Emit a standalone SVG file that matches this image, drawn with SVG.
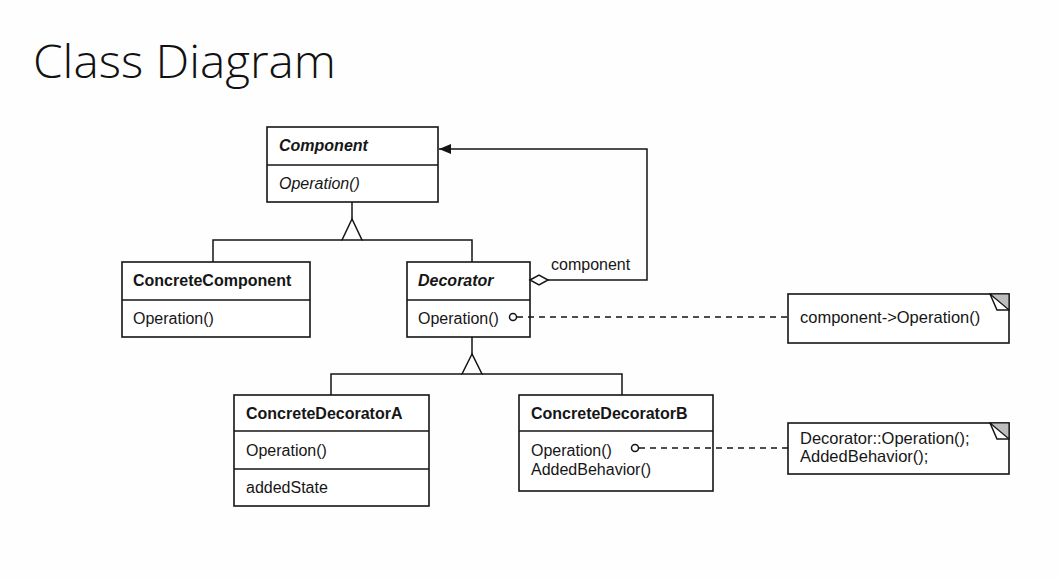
<svg xmlns="http://www.w3.org/2000/svg" width="1059" height="579" viewBox="0 0 1059 579">
  <style>
    .box { fill: #ffffff; stroke: #141414; stroke-width: 1.6; }
    .ln { fill: none; stroke: #141414; stroke-width: 1.5; }
    .open { fill: #ffffff; stroke: #141414; stroke-width: 1.5; }
    .dash { fill: none; stroke: #141414; stroke-width: 1.4; stroke-dasharray: 6 5; }
    .t { font-family: "Liberation Sans", Arial, sans-serif; font-size: 16px; fill: #161616; }
    .n { font-size: 16.5px; }
    .b { font-weight: bold; }
    .i { font-style: italic; }
    .title { font-family: "Open Sans", "Liberation Sans", sans-serif; font-weight: 300; font-size: 46px; fill: #111111; }
  </style>
  <defs>
    <marker id="filled" viewBox="0 0 12 10" refX="12" refY="5" markerWidth="12" markerHeight="10" markerUnits="userSpaceOnUse" orient="auto">
      <path d="M0,0 L12,5 L0,10 Z" fill="#141414"/>
    </marker>
  </defs>
  <rect x="0" y="0" width="1059" height="579" fill="#fefefe"/>
  <text class="title" x="33" y="78" textLength="303" lengthAdjust="spacingAndGlyphs">Class Diagram</text>

  <g id="component">
    <rect class="box" x="267" y="127" width="171" height="75"/>
    <line class="ln" x1="267" y1="165" x2="438" y2="165"/>
    <text class="t b i" x="279" y="151">Component</text>
    <text class="t i" x="279" y="189">Operation()</text>
  </g>

  <g id="concreteComponent">
    <rect class="box" x="122" y="262" width="188" height="75"/>
    <line class="ln" x1="122" y1="300" x2="310" y2="300"/>
    <text class="t b" x="133" y="286">ConcreteComponent</text>
    <text class="t" x="133" y="324">Operation()</text>
  </g>

  <g id="decorator">
    <rect class="box" x="407" y="262" width="123" height="75"/>
    <line class="ln" x1="407" y1="300" x2="530" y2="300"/>
    <text class="t b i" x="418" y="286">Decorator</text>
    <text class="t" x="418" y="324">Operation()</text>
  </g>

  <g id="concreteDecoratorA">
    <rect class="box" x="234" y="395" width="195" height="111"/>
    <line class="ln" x1="234" y1="431" x2="429" y2="431"/>
    <line class="ln" x1="234" y1="469" x2="429" y2="469"/>
    <text class="t b" x="246" y="419">ConcreteDecoratorA</text>
    <text class="t" x="246" y="456">Operation()</text>
    <text class="t" x="246" y="493">addedState</text>
  </g>

  <g id="concreteDecoratorB">
    <rect class="box" x="519" y="395" width="194" height="96"/>
    <line class="ln" x1="519" y1="431" x2="713" y2="431"/>
    <text class="t b" x="531" y="419">ConcreteDecoratorB</text>
    <text class="t" x="531" y="456">Operation()</text>
    <text class="t" x="531" y="475">AddedBehavior()</text>
  </g>

  <g id="note1">
    <rect class="box" x="788" y="294" width="221" height="49"/>
    <path d="M990,294 L1009,294 L1009,310 Z" fill="#bdbdbd" stroke="#141414" stroke-width="1.2"/>
    <path class="ln" d="M990,294 L997,310 L1009,310"/>
    <text class="t n" x="800" y="323">component-&gt;Operation()</text>
  </g>

  <g id="note2">
    <rect class="box" x="788" y="423" width="221" height="51"/>
    <path d="M990,423 L1009,423 L1009,439 Z" fill="#bdbdbd" stroke="#141414" stroke-width="1.2"/>
    <path class="ln" d="M990,423 L997,439 L1009,439"/>
    <text class="t n" x="800" y="444">Decorator::Operation();</text>
    <text class="t n" x="800" y="462">AddedBehavior();</text>
  </g>

  <g id="connectors">
    <!-- Component generalization -->
    <line class="ln" x1="352" y1="202" x2="352" y2="219"/>
    <path class="open" d="M352,219 L342,240 L362,240 Z"/>
    <path class="ln" d="M213,262 L213,240 L342,240 M362,240 L472,240 L472,262"/>
    <!-- Decorator generalization -->
    <line class="ln" x1="472" y1="337" x2="472" y2="354"/>
    <path class="open" d="M472,354 L462,374 L482,374 Z"/>
    <path class="ln" d="M331,395 L331,374 L462,374 M482,374 L622,374 L622,395"/>
    <!-- aggregation component -->
    <path class="open" d="M530,280 L539,275 L548,280 L539,285 Z"/>
    <path class="ln" d="M548,280 L647,280 L647,149 L439,149" marker-end="url(#filled)"/>
    <text class="t" x="551" y="270">component</text>
    <!-- note links -->
    <circle class="open" cx="513" cy="317" r="3.5"/>
    <line class="dash" x1="517" y1="317" x2="788" y2="317"/>
    <circle class="open" cx="635" cy="448" r="3.5"/>
    <line class="dash" x1="639" y1="448" x2="788" y2="448"/>
  </g>
</svg>
